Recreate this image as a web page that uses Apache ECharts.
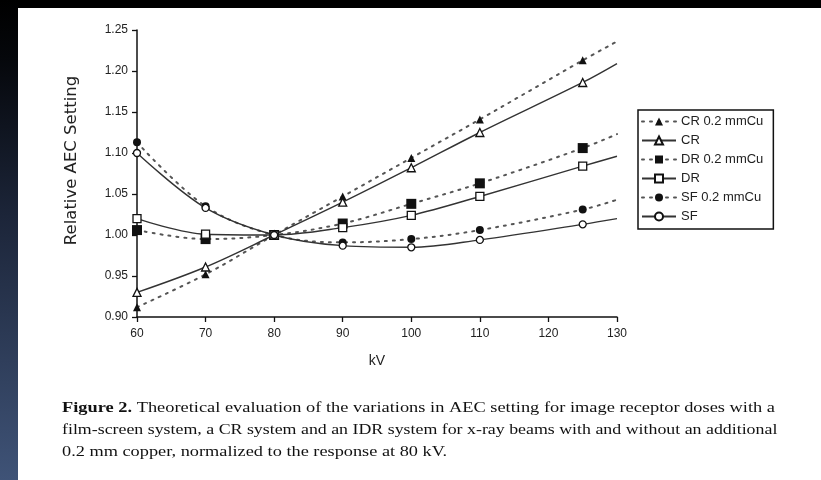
<!DOCTYPE html>
<html>
<head>
<meta charset="utf-8">
<script src="https://cdn.jsdelivr.net/npm/echarts@6/dist/echarts.min.js"></script>
<style>
  html, body { margin: 0; padding: 0; background: #000; }
  #wrap { position: relative; width: 821px; height: 480px; background: #000; overflow: hidden; }
  #strip { position: absolute; left: 0; top: 0; width: 18px; height: 480px;
           background: linear-gradient(to bottom, #000 0%, #05070b 12%, #1c2539 45%, #3f5377 100%); }
  #page { position: absolute; left: 18px; top: 8px; width: 803px; height: 472px; background: #fff; }
  #chart { position: absolute; left: 0; top: 0; width: 821px; height: 480px; }
</style>
</head>
<body>
<div id="wrap">
  <div id="strip"></div>
  <div id="page"></div>
  <div id="chart"></div>
</div>
<script>
// Tube voltage (kV) at which each receptor response was evaluated
const kV = [60, 70, 80, 90, 100, 110, 125, 130];

// Relative AEC setting, normalised to the response at 80 kV
const cr02 = [0.912, 0.952, 1.000, 1.047, 1.094, 1.141, 1.213, 1.236];
const cr   = [0.930, 0.961, 1.000, 1.040, 1.082, 1.125, 1.186, 1.209];
const dr02 = [1.006, 0.995, 1.000, 1.014, 1.038, 1.063, 1.106, 1.123];
const dr   = [1.020, 1.001, 1.000, 1.009, 1.024, 1.047, 1.084, 1.096];
const sf02 = [1.113, 1.035, 1.000, 0.991, 0.995, 1.006, 1.031, 1.043];
const sf   = [1.100, 1.033, 1.000, 0.987, 0.985, 0.994, 1.013, 1.020];

const seriesNames = ['CR 0.2 mmCu', 'CR', 'DR 0.2 mmCu', 'DR', 'SF 0.2 mmCu', 'SF'];

const yTicks = { min: 0.90, max: 1.25, step: 0.05 };
const xTicks = { min: 60, max: 130, step: 10 };

const captionLines = [
  ['Figure 2.', ' Theoretical evaluation of the variations in AEC setting for image receptor doses with a'],
  ['', 'film-screen system, a CR system and an IDR system for x-ray beams with and without an additional'],
  ['', '0.2 mm copper, normalized to the response at 80 kV.']
];
// horizontal stretch of each caption line (justified block)
const captionStretch = [1.225, 1.19, 1.22];

// Pair kV with values; the last point (130 kV) is only the curve end, drawn without a marker
function pairs(vals) {
  return kV.map((k, i) => {
    const item = { value: [k, vals[i]] };
    if (k === 130) item.symbol = 'none';
    return item;
  });
}

const dotted = { type: [2, 6], width: 2, color: '#555', cap: 'round' };
const solid = { type: 'solid', width: 1.4, color: '#333' };

function mkSeries(name, vals, line, symbol, size, filled) {
  return {
    name: name,
    type: 'line',
    smooth: 0.35,
    data: pairs(vals),
    symbol: symbol,
    symbolSize: size,
    showAllSymbol: true,
    lineStyle: line,
    itemStyle: {
      color: filled ? '#111' : '#fff',
      borderColor: '#111',
      borderWidth: filled ? 0 : 1.3
    },
    emphasis: { disabled: true },
    z: filled ? 3 : 4
  };
}

const chart = echarts.init(document.getElementById('chart'), null, { renderer: 'canvas' });

const axisFont = { fontFamily: 'Liberation Sans, Arial, sans-serif', fontSize: 12, color: '#222' };

chart.setOption({
  backgroundColor: 'transparent',
  animation: false,
  grid: { left: 137, right: 204, top: 30, bottom: 163, containLabel: false },
  xAxis: {
    type: 'value',
    min: xTicks.min, max: xTicks.max, interval: xTicks.step,
    name: 'kV',
    nameLocation: 'middle',
    nameGap: 37,
    nameTextStyle: { fontFamily: 'Liberation Sans, Arial, sans-serif', fontSize: 14, color: '#222' },
    axisLine: { show: true, lineStyle: { color: '#111', width: 1.5 } },
    axisTick: { show: true, inside: false, length: 5, lineStyle: { color: '#111', width: 1.3 } },
    axisLabel: Object.assign({ margin: 11 }, axisFont),
    splitLine: { show: false }
  },
  yAxis: {
    type: 'value',
    min: yTicks.min, max: yTicks.max, interval: yTicks.step,
    name: 'Relative AEC Setting',
    nameLocation: 'middle',
    nameGap: 57,
    nameTextStyle: { fontFamily: 'DejaVu Sans, sans-serif', fontSize: 16.5, color: '#222', padding: [0, 0, 0, 26] },
    axisLine: { show: true, lineStyle: { color: '#111', width: 1.5 } },
    axisTick: { show: true, inside: false, length: 5, lineStyle: { color: '#111', width: 1.3 } },
    axisLabel: Object.assign({ margin: 9, formatter: v => v.toFixed(2) }, axisFont),
    splitLine: { show: false }
  },
  legend: {
    data: seriesNames,
    orient: 'vertical',
    left: 638,
    top: 110,
    padding: [5, 10, 6, 3],
    itemGap: 6,
    itemWidth: 34,
    itemHeight: 10,
    borderColor: '#111',
    borderWidth: 1.5,
    backgroundColor: '#fff',
    textStyle: { fontFamily: 'Liberation Sans, Arial, sans-serif', fontSize: 13, color: '#222' },
    selectedMode: false
  },
  series: [
    mkSeries('CR 0.2 mmCu', cr02, dotted, 'triangle', 8, true),
    mkSeries('CR', cr, solid, 'triangle', 8, false),
    mkSeries('DR 0.2 mmCu', dr02, dotted, 'rect', 10, true),
    mkSeries('DR', dr, solid, 'rect', 8, false),
    mkSeries('SF 0.2 mmCu', sf02, dotted, 'circle', 8, true),
    mkSeries('SF', sf, solid, 'circle', 7, false)
  ],
  graphic: captionLines.map((ln, i) => ({
    type: 'text',
    x: 62,
    y: 401 + i * 22,
    scaleX: captionStretch[i],
    style: {
      text: (ln[0] ? '{b|' + ln[0] + '}' : '') + ln[1],
      fontFamily: 'Liberation Serif, Times New Roman, serif',
      fontSize: 15,
      fill: '#111',
      rich: { b: { fontFamily: 'Liberation Serif, Times New Roman, serif', fontSize: 15, fontWeight: 'bold', fill: '#111' } }
    }
  }))
});
</script>
</body>
</html>
